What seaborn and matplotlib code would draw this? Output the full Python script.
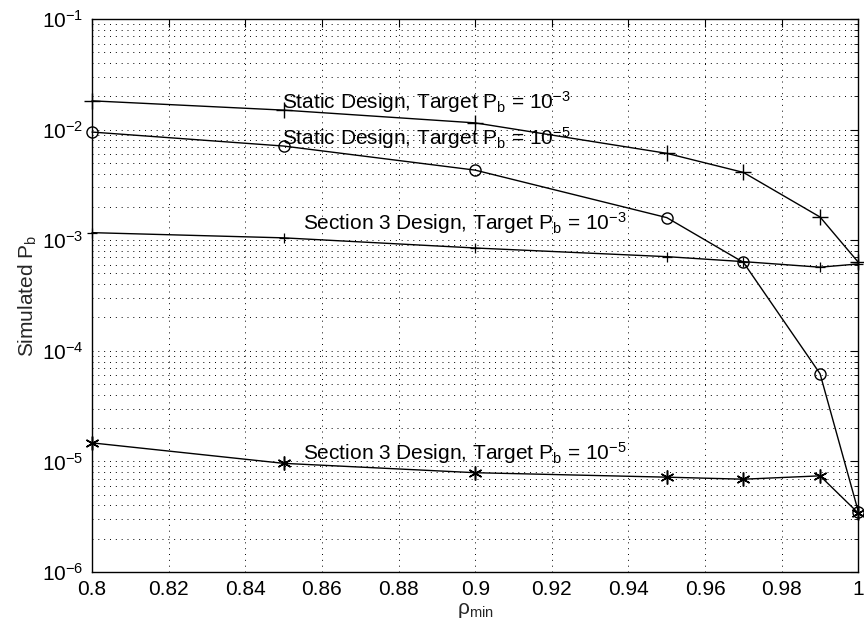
import numpy as np
import pandas as pd
import matplotlib
matplotlib.use("Agg")
import matplotlib.pyplot as plt
import matplotlib.ticker as mticker
import seaborn as sns

# ---- data ----
rho_min = [0.80, 0.85, 0.90, 0.95, 0.97, 0.99, 1.00]
static_1e3 = [0.0182, 0.0150, 0.0115, 0.0061, 0.0041, 0.00162, 0.00063]
static_1e5 = [0.0095, 0.0071, 0.0043, 0.0016, 0.00063, 6.2e-5, 3.5e-6]
sec3_1e3 = [1.17e-3, 1.05e-3, 8.5e-4, 7.1e-4, 6.4e-4, 5.7e-4, 6.1e-4]
sec3_1e5 = [1.47e-5, 9.6e-6, 7.9e-6, 7.2e-6, 6.9e-6, 7.4e-6, 3.4e-6]

labels = [
    r"Static Design, Target P$_{\rm b}$ = 10$^{-3}$",
    r"Static Design, Target P$_{\rm b}$ = 10$^{-5}$",
    r"Section 3 Design, Target P$_{\rm b}$ = 10$^{-3}$",
    r"Section 3 Design, Target P$_{\rm b}$ = 10$^{-5}$",
]
label_x = [0.8497, 0.8497, 0.855, 0.855]
label_y = [0.0178, 0.0084, 1.43e-3, 1.2e-5]

x_ticks = [0.80, 0.82, 0.84, 0.86, 0.88, 0.90, 0.92, 0.94, 0.96, 0.98, 1.00]
x_ticklabels = ["0.8", "0.82", "0.84", "0.86", "0.88", "0.9", "0.92", "0.94", "0.96", "0.98", "1"]

sns.set_style("white")
plt.rcParams["font.family"] = ["Liberation Sans", "DejaVu Sans"]
plt.rcParams["mathtext.fontset"] = "custom"
plt.rcParams["mathtext.rm"] = "Liberation Sans"
plt.rcParams["mathtext.it"] = "Liberation Sans:italic"
plt.rcParams["mathtext.bf"] = "Liberation Sans:bold"

fig = plt.figure(figsize=(8.64, 6.23), dpi=100)
ax = fig.add_axes([0.1065, 0.0819, 0.887, 0.8876])

asterisk = (6, 2, 0)
series = [
    (static_1e3, "+", 11, 1.0),
    (static_1e5, "o", 8, 1.0),
    (sec3_1e3, "+", 7, 0.9),
    (sec3_1e5, asterisk, 10, 1.1),
]
for vals, mk, ms, mew in series:
    sns.lineplot(x=rho_min, y=vals, ax=ax, color="black", linewidth=1.0,
                 marker=mk, markersize=ms, markeredgecolor="black",
                 markerfacecolor="none", markeredgewidth=mew, sort=False,
                 clip_on=False, zorder=3)

ax.set_yscale("log")
ax.set_xlim(0.8, 1.0)
ax.set_ylim(1e-6, 1e-1)
ax.set_xticks(x_ticks)
ax.set_xticklabels(x_ticklabels)
ax.yaxis.set_major_locator(mticker.LogLocator(base=10, numticks=10))
ax.yaxis.set_minor_locator(mticker.LogLocator(base=10, subs=np.arange(2, 10), numticks=20))
ax.yaxis.set_minor_formatter(mticker.NullFormatter())

ax.grid(True, which="major", axis="both", linestyle=(0, (1, 5)), color="black", linewidth=0.7)
ax.grid(True, which="minor", axis="y", linestyle=(0, (1, 5)), color="black", linewidth=0.7)

ax.tick_params(axis="both", which="both", direction="in", top=True, right=True,
               labelsize=15, colors="black")
ax.tick_params(axis="both", which="major", length=6, width=0.8, pad=6)
ax.tick_params(axis="y", which="minor", length=3, width=0.6)
for sp in ax.spines.values():
    sp.set_color("black")
    sp.set_linewidth(1.0)

for txt, tx, ty in zip(labels, label_x, label_y):
    ax.text(tx, ty, txt, fontsize=15, ha="left", va="center", color="black")

ax.set_xlabel("ρ$_{\\rm min}$", fontsize=15, labelpad=1)
ax.set_ylabel(r"Simulated P$_{\rm b}$", fontsize=15, labelpad=2)

fig.savefig("out.png", dpi=100)
